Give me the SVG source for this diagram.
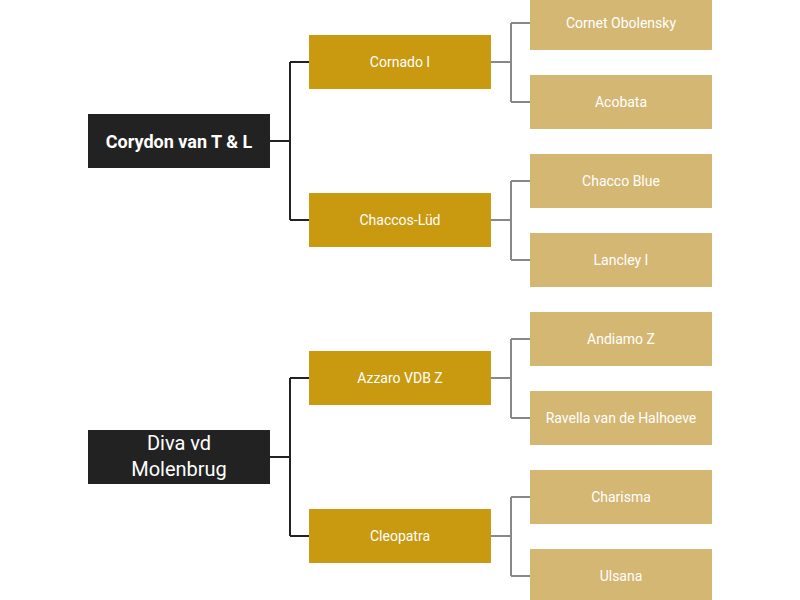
<svg xmlns="http://www.w3.org/2000/svg" width="800" height="600" viewBox="0 0 800 600">
<style>
.root{fill:#222222}.l2{fill:#C9990F}.l3{fill:#D4B773}
text{font-family:Roboto,"Liberation Sans",sans-serif;fill:#fff;text-anchor:middle;dominant-baseline:central}
.t{font-size:14px}
.c1{fill:none;stroke:#222;stroke-width:2}.c2{fill:none;stroke:#888;stroke-width:2}
</style>
<rect width="800" height="600" fill="#fff"/>
<g id="connectors">
<path class="c1" d="M270 141H290M290 62V220M290 62H309M290 220H309"/>
<path class="c1" d="M270 457H290M290 378V536M290 378H309M290 536H309"/>
<path class="c2" d="M491 62H511M511 23V102M511 23H530M511 102H530"/>
<path class="c2" d="M491 220H511M511 181V260M511 181H530M511 260H530"/>
<path class="c2" d="M491 378H511M511 339V418M511 339H530M511 418H530"/>
<path class="c2" d="M491 536H511M511 497V576M511 497H530M511 576H530"/>
</g>
<g id="n1"><rect class="root" x="88" y="114" width="182" height="54"/><text x="179" y="141" style="font-size:18px;font-weight:bold">Corydon van T &amp; L</text></g>
<g id="n2"><rect class="root" x="88" y="430" width="182" height="54"/><text x="179" y="443" style="font-size:20px">Diva vd</text><text x="179" y="469" style="font-size:20px">Molenbrug</text></g>
<g id="n3"><rect class="l2" x="309" y="35" width="182" height="54"/><text class="t" x="400" y="62">Cornado I</text></g>
<g id="n4"><rect class="l2" x="309" y="193" width="182" height="54"/><text class="t" x="400" y="220">Chaccos-Lüd</text></g>
<g id="n5"><rect class="l2" x="309" y="351" width="182" height="54"/><text class="t" x="400" y="378">Azzaro VDB Z</text></g>
<g id="n6"><rect class="l2" x="309" y="509" width="182" height="54"/><text class="t" x="400" y="536">Cleopatra</text></g>
<g id="n7"><rect class="l3" x="530" y="-4" width="182" height="54"/><text class="t" x="621" y="23">Cornet Obolensky</text></g>
<g id="n8"><rect class="l3" x="530" y="75" width="182" height="54"/><text class="t" x="621" y="102">Acobata</text></g>
<g id="n9"><rect class="l3" x="530" y="154" width="182" height="54"/><text class="t" x="621" y="181">Chacco Blue</text></g>
<g id="n10"><rect class="l3" x="530" y="233" width="182" height="54"/><text class="t" x="621" y="260">Lancley I</text></g>
<g id="n11"><rect class="l3" x="530" y="312" width="182" height="54"/><text class="t" x="621" y="339">Andiamo Z</text></g>
<g id="n12"><rect class="l3" x="530" y="391" width="182" height="54"/><text class="t" x="621" y="418">Ravella van de Halhoeve</text></g>
<g id="n13"><rect class="l3" x="530" y="470" width="182" height="54"/><text class="t" x="621" y="497">Charisma</text></g>
<g id="n14"><rect class="l3" x="530" y="549" width="182" height="54"/><text class="t" x="621" y="576">Ulsana</text></g>
</svg>
